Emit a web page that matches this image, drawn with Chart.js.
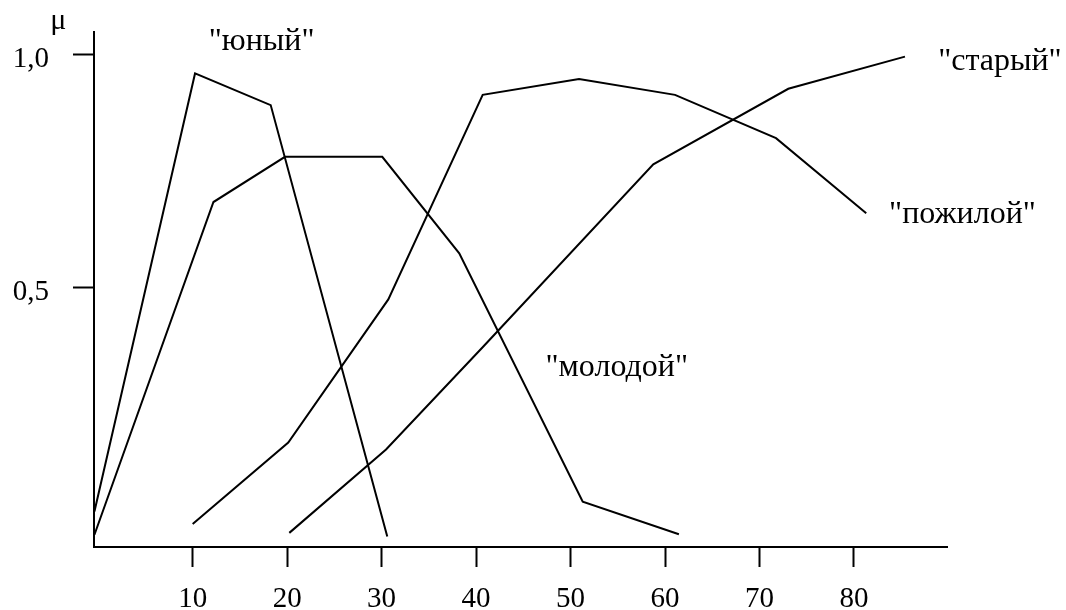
<!DOCTYPE html>
<html>
<head>
<meta charset="utf-8">
<script src="https://cdn.jsdelivr.net/npm/chart.js@4/dist/chart.umd.min.js"></script>
<style>
  body { margin: 0; background: #fff; }
  #canvas { display: block; }
</style>
</head>
<body>
<canvas id="canvas" width="1066" height="610"></canvas>
<script>
// age (years) on x, membership μ on y
const yunyX = [-0.4, 10.25, 18.26, 30.6];
const yunyY = [0.019, 0.959, 0.891, -0.035];

const molodoyX = [-0.4, 12.2, 19.77, 30.07, 38.22, 51.29, 61.47];
const molodoyY = [-0.031, 0.683, 0.78, 0.78, 0.573, 0.04, -0.03];

const pozhiloyX = [10.0, 20.12, 30.71, 40.7, 50.9, 61.06, 71.75, 81.3];
const pozhiloyY = [-0.008, 0.167, 0.474, 0.913, 0.947, 0.913, 0.82, 0.659];

const staryX = [20.23, 30.47, 40.77, 58.76, 73.05, 85.4];
const staryY = [-0.027, 0.152, 0.373, 0.764, 0.926, 0.995];

const xTicks = [10, 20, 30, 40, 50, 60, 70, 80];
const yTicks = [0.5, 1.0];

// curve names and where their text sits (data units, baseline)
const curveNames = ['"юный"', '"молодой"', '"пожилой"', '"старый"'];
const nameX = [17.3, 54.89, 91.49, 95.45];
const nameY = [1.009, 0.310, 0.638, 0.966];
const axisName = 'μ';

const FONT = '"Liberation Serif", "Times New Roman", serif';
const toPts = (xs, ys) => xs.map((x, i) => ({ x: x, y: ys[i] }));

const line = (label, xs, ys) => ({
    label: label,
    data: toPts(xs, ys),
    borderColor: '#000',
    borderWidth: 2,
    pointRadius: 0,
    fill: false,
    tension: 0,
    clip: false
});

const textPlugin = {
    id: 'curveText',
    afterDraw(chart) {
        const c = chart.ctx;
        const xs = chart.scales.x;
        const ys = chart.scales.y;
        c.save();
        c.fillStyle = '#000';
        c.font = '32px ' + FONT;
        c.textAlign = 'center';
        c.textBaseline = 'alphabetic';
        curveNames.forEach((name, i) => {
            c.fillText(name, xs.getPixelForValue(nameX[i]), ys.getPixelForValue(nameY[i]));
        });
        c.font = '30px ' + FONT;
        c.fillText(axisName, xs.getPixelForValue(-4.23), ys.getPixelForValue(1.054));
        c.restore();
    }
};

new Chart(document.getElementById('canvas'), {
    type: 'line',
    data: {
        datasets: [
            line('юный', yunyX, yunyY),
            line('молодой', molodoyX, molodoyY),
            line('пожилой', pozhiloyX, pozhiloyY),
            line('старый', staryX, staryY)
        ]
    },
    options: {
        responsive: false,
        animation: false,
        layout: { padding: { top: 32, right: 119, left: 0, bottom: 0 } },
        plugins: { legend: { display: false }, tooltip: { enabled: false } },
        scales: {
            x: {
                type: 'linear',
                min: -0.445,
                max: 89.85,
                afterBuildTicks: (s) => { s.ticks = xTicks.map(v => ({ value: v })); },
                afterFit: (s) => { s.height = 63; s.paddingLeft = 0; s.paddingRight = 0; },
                grid: { drawOnChartArea: false, tickLength: 20, tickWidth: 2, tickColor: '#000' },
                border: { color: '#000', width: 2 },
                ticks: {
                    color: '#000', font: { family: FONT, size: 29 },
                    padding: 15, maxRotation: 0, autoSkip: false
                }
            },
            y: {
                min: -0.0573,
                max: 1.0479,
                afterBuildTicks: (s) => { s.ticks = yTicks.map(v => ({ value: v })); },
                afterFit: (s) => { s.width = 94; s.paddingTop = 0; s.paddingBottom = 0; },
                grid: { drawOnChartArea: false, tickLength: 21, tickWidth: 2, tickColor: '#000' },
                border: { color: '#000', width: 2 },
                ticks: {
                    color: '#000', font: { family: FONT, size: 29 },
                    padding: 24, labelOffset: 5, autoSkip: false,
                    callback: (v) => v.toFixed(1).replace('.', ',')
                }
            }
        }
    },
    plugins: [textPlugin]
});
</script>
</body>
</html>
